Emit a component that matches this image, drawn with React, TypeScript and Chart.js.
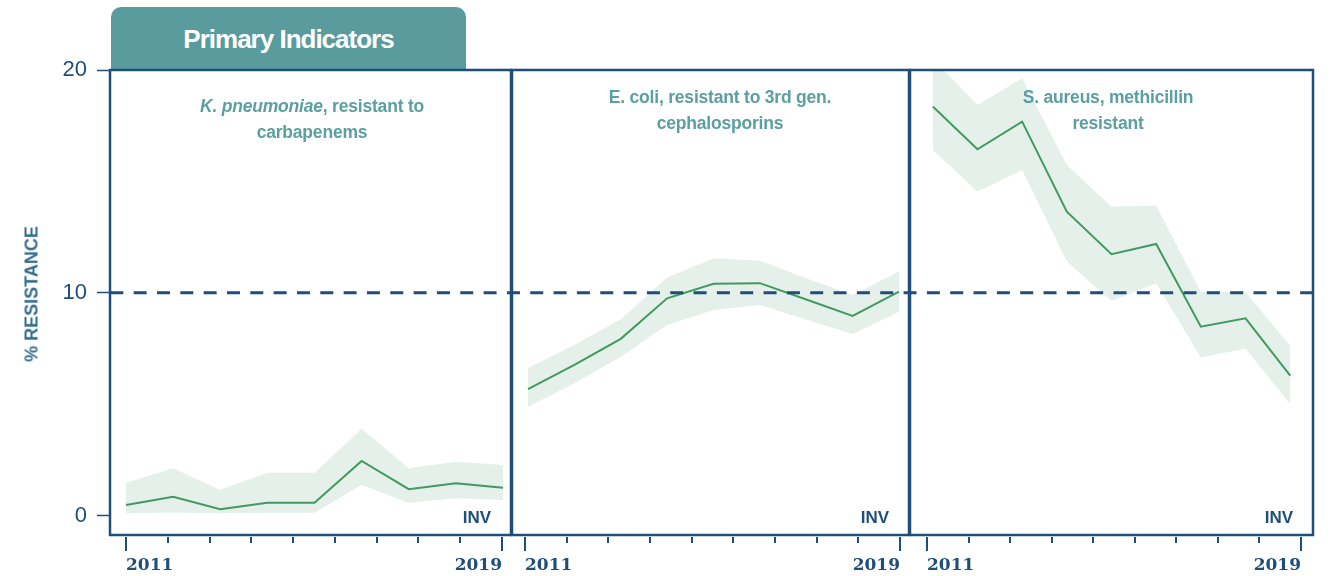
import React, { useEffect, useRef } from 'react';
import { Chart, registerables } from 'chart.js';

Chart.register(...registerables);

// ---------- data ----------
const YEARS = [2011, 2012, 2013, 2014, 2015, 2016, 2017, 2018, 2019];
const X_TICK_LABELS = ['2011', '2019'];
const X_TICK_COUNT = 10;
const Y_TICKS = [0, 10, 20];
const THRESHOLD = 10;
const INV_LABEL = 'INV';
const Y_TITLE = '% RESISTANCE';
const TAB_LABEL = 'Primary Indicators';

// K. pneumoniae, resistant to carbapenems
const KP_VALUES = [0.47, 0.84, 0.28, 0.57, 0.57, 2.45, 1.18, 1.45, 1.25];
const KP_UPPER = [1.47, 2.12, 1.15, 1.92, 1.92, 3.89, 2.12, 2.41, 2.27];
const KP_LOWER = [0.1, 0.13, 0.1, 0.12, 0.12, 1.38, 0.57, 0.77, 0.7];

// E. coli, resistant to 3rd gen. cephalosporins
const EC_VALUES = [5.67, 6.76, 7.93, 9.75, 10.4, 10.43, 9.7, 8.96, 10.05];
const EC_UPPER = [6.61, 7.66, 8.81, 10.69, 11.55, 11.44, 10.65, 9.9, 10.95];
const EC_LOWER = [4.88, 5.94, 7.13, 8.55, 9.23, 9.45, 8.8, 8.15, 9.15];

// S. aureus, methicillin resistant
const SA_VALUES = [18.36, 16.44, 17.68, 13.64, 11.73, 12.19, 8.48, 8.85, 6.28];
const SA_UPPER = [20.5, 18.43, 19.63, 15.74, 13.87, 13.91, 10.05, 10.05, 7.61];
const SA_LOWER = [16.41, 14.54, 15.51, 11.4, 9.63, 10.43, 7.09, 7.5, 5.0];

// ---------- styles / layout ----------
const NAVY = '#1f4e79';
const TEAL = '#5a9c9e';
const TITLE_TEAL = '#5c9fa1';
const LINE_GREEN = '#3f9b60';
const BAND = '#e6f0ea';
const W = 1338;
const H = 576;

type Panel = {
  padLeft: number;
  padRight: number;
  xMin: number;
  xMax: number;
  tMin: number;
  tMax: number;
  showY: boolean;
  values: number[];
  upper: number[];
  lower: number[];
};

const PANELS: Panel[] = [
  { padLeft: 0, padRight: W - 511, xMin: 2010.66, xMax: 2019.17, tMin: -0.383, tMax: 9.215, showY: true, values: KP_VALUES, upper: KP_UPPER, lower: KP_LOWER },
  { padLeft: 512, padRight: W - 909, xMin: 2010.655, xMax: 2019.215, tMin: -0.312, tMax: 9.216, showY: false, values: EC_VALUES, upper: EC_UPPER, lower: EC_LOWER },
  { padLeft: 910, padRight: W - 1313, xMin: 2010.49, xMax: 2019.51, tMin: -0.409, tMax: 9.289, showY: false, values: SA_VALUES, upper: SA_UPPER, lower: SA_LOWER },
];

const pts = (arr: number[]) => YEARS.map((yr, i) => ({ x: yr, y: arr[i] }));

const decor = {
  id: 'panelDecor',
  afterDatasetsDraw(chart: any) {
    const { ctx, chartArea: a, scales } = chart;
    const y = scales.y.getPixelForValue(THRESHOLD);
    ctx.save();
    // threshold dashed line
    ctx.strokeStyle = NAVY;
    ctx.lineWidth = 3;
    ctx.setLineDash([13, 10.33]);
    ctx.lineDashOffset = a.left - 17;
    ctx.beginPath();
    ctx.moveTo(a.left, y);
    ctx.lineTo(a.right, y);
    ctx.stroke();
    ctx.setLineDash([]);
    // frame
    ctx.lineWidth = 2.5;
    ctx.strokeRect(a.left, a.top, a.right - a.left, a.bottom - a.top);
    // INV label
    ctx.fillStyle = NAVY;
    ctx.font = 'bold 17px "Liberation Sans", Arial, sans-serif';
    ctx.textAlign = 'right';
    ctx.textBaseline = 'alphabetic';
    ctx.fillText(INV_LABEL, a.right - 20, a.bottom - 12);
    ctx.restore();
  },
  afterDraw(chart: any) {
    const { ctx, chartArea: a, scales } = chart;
    const xt = scales.xt;
    ctx.save();
    ctx.strokeStyle = NAVY;
    ctx.lineWidth = 2;
    for (let i = 0; i < X_TICK_COUNT; i++) {
      const px = Math.round(xt.getPixelForValue(i));
      const long = i === 0 || i === X_TICK_COUNT - 1;
      ctx.beginPath();
      ctx.moveTo(px, a.bottom + 2);
      ctx.lineTo(px, a.bottom + (long ? 16 : 8));
      ctx.stroke();
    }
    ctx.restore();
  },
};

function makeConfig(p: Panel): any {
  return {
    type: 'line',
    data: {
      datasets: [
        // dataset 0 is painted last, so the line sits on top of the band
        { data: pts(p.values), xAxisID: 'x', yAxisID: 'y', borderWidth: 2, borderColor: LINE_GREEN, pointRadius: 0, fill: false, tension: 0 },
        { data: pts(p.upper), xAxisID: 'x', yAxisID: 'y', borderWidth: 0, borderColor: 'rgba(0,0,0,0)', backgroundColor: BAND, pointRadius: 0, fill: '+1', tension: 0 },
        { data: pts(p.lower), xAxisID: 'x', yAxisID: 'y', borderWidth: 0, borderColor: 'rgba(0,0,0,0)', pointRadius: 0, fill: false, tension: 0 },
      ],
    },
    options: {
      responsive: false,
      animation: false,
      events: [],
      layout: { padding: { left: p.padLeft, right: p.padRight, top: 70, bottom: 0 } },
      plugins: { legend: { display: false }, tooltip: { enabled: false }, title: { display: false } },
      scales: {
        x: { type: 'linear', display: false, min: p.xMin, max: p.xMax },
        xt: {
          type: 'linear',
          axis: 'x',
          position: 'bottom',
          min: p.tMin,
          max: p.tMax,
          afterBuildTicks: (s: any) => {
            s.ticks = [{ value: 0 }, { value: X_TICK_COUNT - 1 }];
          },
          afterFit: (s: any) => {
            s.height = 41;
          },
          ticks: {
            callback: (_v: any, i: number) => X_TICK_LABELS[i],
            align: 'inner',
            autoSkip: false,
            maxRotation: 0,
            padding: 20,
            color: NAVY,
            font: { family: '"DejaVu Serif", serif', weight: 'bold', size: 17 },
          },
          grid: { display: false, drawTicks: false },
          border: { display: false },
        },
        y: {
          type: 'linear',
          position: 'left',
          display: p.showY,
          min: -0.875,
          max: 20,
          afterBuildTicks: (s: any) => {
            s.ticks = Y_TICKS.map((v) => ({ value: v }));
          },
          afterFit: (s: any) => {
            s.width = p.showY ? 110 : 0;
          },
          ticks: {
            padding: 10,
            color: NAVY,
            font: { family: '"Liberation Sans", Arial, sans-serif', size: 22 },
          },
          grid: { drawOnChartArea: false, drawTicks: true, tickLength: 13, tickColor: NAVY, tickWidth: 1.5 },
          border: { display: false },
        },
      },
    },
    plugins: [decor],
  };
}

const titleBase: React.CSSProperties = {
  position: 'absolute',
  width: 320,
  textAlign: 'center',
  color: TITLE_TEAL,
  fontFamily: '"Liberation Sans", Arial, sans-serif',
  fontWeight: 'bold',
  fontSize: 17.5,
  lineHeight: '26px',
  letterSpacing: '-0.2px',
  whiteSpace: 'nowrap',
};

export default function App() {
  const r1 = useRef<HTMLCanvasElement>(null);
  const r2 = useRef<HTMLCanvasElement>(null);
  const r3 = useRef<HTMLCanvasElement>(null);

  useEffect(() => {
    const refs = [r1, r2, r3];
    const charts = PANELS.map((p, i) => new Chart(refs[i].current as HTMLCanvasElement, makeConfig(p)));
    return () => charts.forEach((c) => c.destroy());
  }, []);

  const canvasStyle: React.CSSProperties = { position: 'absolute', left: 0, top: 0, width: W, height: H };

  return (
    <div style={{ position: 'absolute', left: 0, top: 0, width: W, height: H, background: '#fff', overflow: 'hidden' }}>
      <div
        style={{
          position: 'absolute',
          left: 111,
          top: 7,
          width: 355,
          height: 63,
          background: TEAL,
          borderRadius: '10px 10px 0 0',
        }}
      >
        <div
          style={{
            position: 'absolute',
            left: 0,
            top: 19,
            width: 355,
            textAlign: 'center',
            color: '#fff',
            fontFamily: '"Liberation Sans", Arial, sans-serif',
            fontWeight: 'bold',
            fontSize: 26,
            lineHeight: '26px',
            letterSpacing: '-1px',
            whiteSpace: 'nowrap',
          }}
        >
          {TAB_LABEL}
        </div>
      </div>
      <canvas ref={r1} width={W} height={H} style={canvasStyle} />
      <canvas ref={r2} width={W} height={H} style={canvasStyle} />
      <canvas ref={r3} width={W} height={H} style={canvasStyle} />
      <div
        style={{
          position: 'absolute',
          left: 32,
          top: 294,
          transform: 'translate(-50%, -50%) rotate(-90deg)',
          color: '#336d91',
          fontFamily: '"Liberation Sans", Arial, sans-serif',
          fontWeight: 'bold',
          fontSize: 18,
          whiteSpace: 'nowrap',
        }}
      >
        {Y_TITLE}
      </div>
      <div style={{ ...titleBase, left: 312 - 160, top: 93 }}>
        <i>K. pneumoniae</i>, resistant to
        <br />
        carbapenems
      </div>
      <div style={{ ...titleBase, left: 720 - 160, top: 84 }}>
        E. coli, resistant to 3rd gen.
        <br />
        cephalosporins
      </div>
      <div style={{ ...titleBase, left: 1108 - 160, top: 84 }}>
        S. aureus, methicillin
        <br />
        resistant
      </div>
    </div>
  );
}
